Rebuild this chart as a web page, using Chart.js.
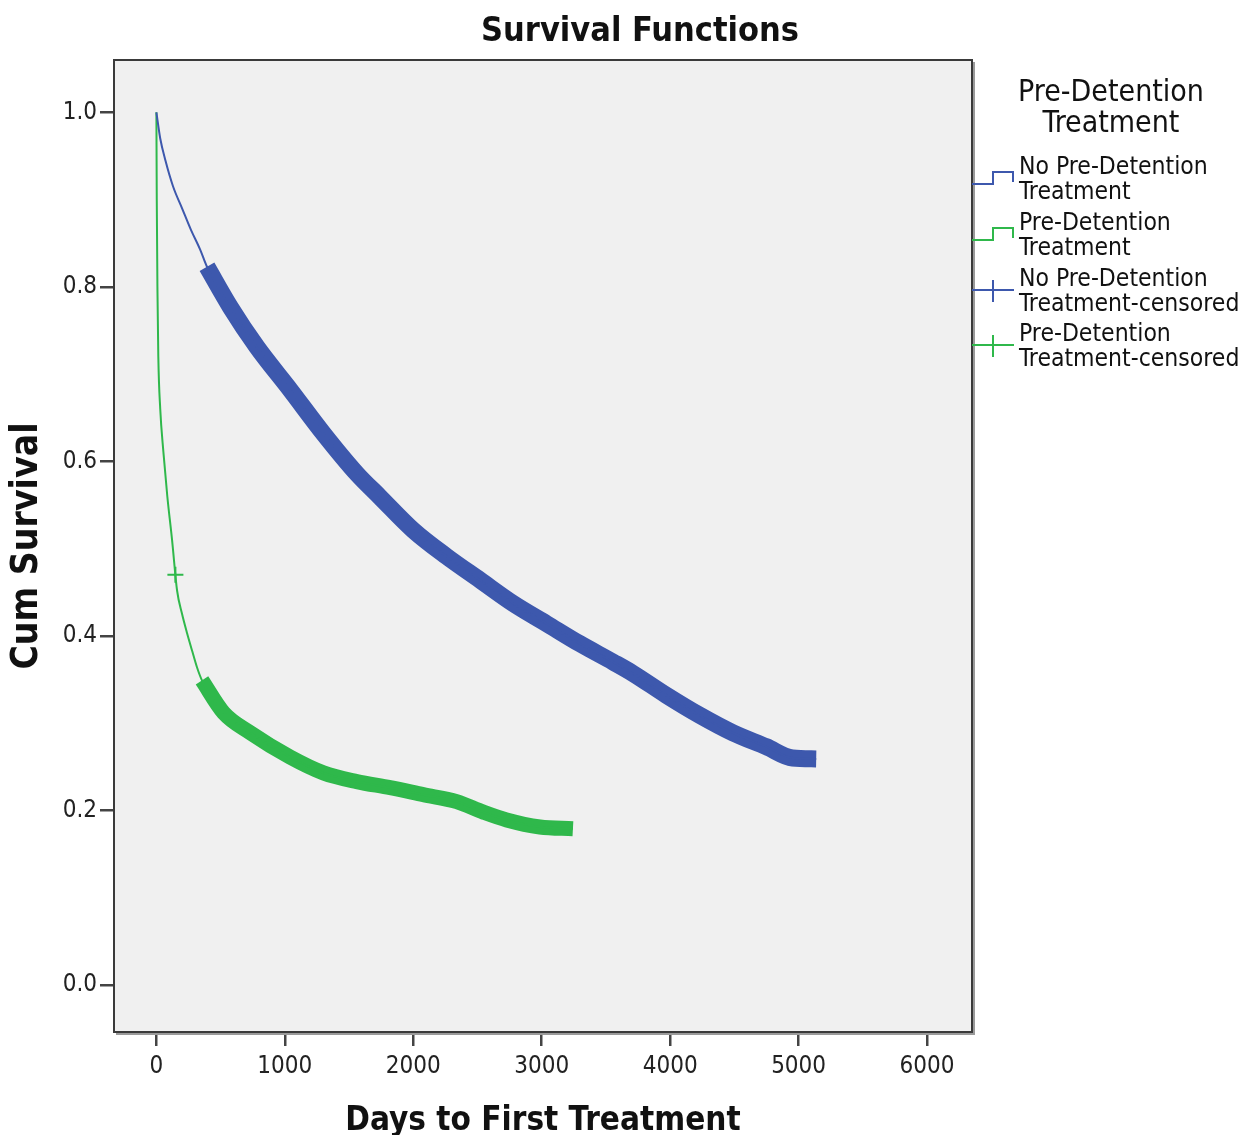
<!DOCTYPE html>
<html>
<head>
<meta charset="utf-8">
<script src="https://cdn.jsdelivr.net/npm/chart.js@4.4.0/dist/chart.umd.min.js"></script>
<style>
  html, body { margin: 0; padding: 0; background: #fff; }
  #wrap { width: 1246px; height: 1135px; }
</style>
</head>
<body>
<div id="wrap"><canvas id="survChart" width="1246" height="1135"></canvas></div>
<script>
var FONT = "'DejaVu Sans Condensed', 'Liberation Sans Narrow', 'Liberation Sans', sans-serif";
var BLUE = '#3d58ad';
var GREEN = '#2fb84b';

// Kaplan-Meier estimates
var noTxDays = [0, 30, 70, 130, 200, 270, 340, 394, 575, 783, 1042, 1300, 1560, 1742, 2001, 2260, 2519, 2779, 3038, 3297, 3556, 3710, 3970, 4230, 4487, 4748, 4953, 5137];
var noTxSurv = [1.0, 0.970, 0.945, 0.915, 0.890, 0.865, 0.843, 0.823, 0.777, 0.731, 0.682, 0.632, 0.586, 0.559, 0.521, 0.491, 0.464, 0.437, 0.414, 0.391, 0.370, 0.357, 0.332, 0.309, 0.289, 0.273, 0.260, 0.259];

var txDays = [0, 3, 8, 15, 30, 55, 85, 122, 161, 200, 239, 280, 316, 355, 523, 731, 1042, 1300, 1560, 1820, 2078, 2338, 2545, 2727, 2986, 3243];
var txSurv = [1.0, 0.900, 0.800, 0.720, 0.660, 0.610, 0.560, 0.510, 0.452, 0.425, 0.403, 0.382, 0.364, 0.349, 0.312, 0.289, 0.261, 0.243, 0.233, 0.226, 0.218, 0.210, 0.198, 0.189, 0.181, 0.179];

// censored cases (dense runs of marks)
var noTxCensDays = [394, 575, 783, 1042, 1300, 1560, 1742, 2001, 2260, 2519, 2779, 3038, 3297, 3556, 3710, 3970, 4230, 4487, 4748, 4953, 5137];
var noTxCensSurv = [0.823, 0.777, 0.731, 0.682, 0.632, 0.586, 0.559, 0.521, 0.491, 0.464, 0.437, 0.414, 0.391, 0.370, 0.357, 0.332, 0.309, 0.289, 0.273, 0.260, 0.259];
var txCensDays = [355, 523, 731, 1042, 1300, 1560, 1820, 2078, 2338, 2545, 2727, 2986, 3243];
var txCensSurv = [0.349, 0.312, 0.289, 0.261, 0.243, 0.233, 0.226, 0.218, 0.210, 0.198, 0.189, 0.181, 0.179];
var txLoneCensDays = [148];
var txLoneCensSurv = [0.470];

var xTicks = [0, 1000, 2000, 3000, 4000, 5000, 6000];
var yTicks = [0.0, 0.2, 0.4, 0.6, 0.8, 1.0];

var legendTitle = ['Pre-Detention', 'Treatment'];
var legendLabels = [
  ['No Pre-Detention', 'Treatment'],
  ['Pre-Detention', 'Treatment'],
  ['No Pre-Detention', 'Treatment-censored'],
  ['Pre-Detention', 'Treatment-censored']
];
var legendColors = [BLUE, GREEN, BLUE, GREEN];

function toPts(xs, ys) {
  return xs.map(function(x, i) { return { x: x, y: ys[i] }; });
}

var framePlugin = {
  id: 'frame',
  beforeDatasetsDraw: function(chart) {
    var a = chart.chartArea, c = chart.ctx;
    c.save();
    c.fillStyle = '#f0f0f0';
    c.fillRect(a.left, a.top, a.right - a.left, a.bottom - a.top);
    c.restore();
  },
  afterDatasetsDraw: function(chart) {
    var a = chart.chartArea, c = chart.ctx;
    c.save();
    c.strokeStyle = '#9a9a9a';
    c.lineWidth = 2;
    c.beginPath();
    c.moveTo(a.left + 2, a.bottom + 2);
    c.lineTo(a.right + 2, a.bottom + 2);
    c.lineTo(a.right + 2, a.top + 2);
    c.stroke();
    c.strokeStyle = '#3a3a3a';
    c.lineWidth = 2;
    c.strokeRect(a.left, a.top, a.right - a.left, a.bottom - a.top);
    c.restore();
  }
};

var legendPlugin = {
  id: 'sideLegend',
  afterDraw: function(chart) {
    var c = chart.ctx;
    c.save();
    // main title
    c.fillStyle = '#111';
    c.textAlign = 'center';
    c.textBaseline = 'middle';
    c.font = 'bold 34px ' + FONT;
    c.fillText('Survival Functions', 640, 32);

    c.font = '30px ' + FONT;
    c.fillText(legendTitle[0], 1111, 93);
    c.fillText(legendTitle[1], 1111, 124);

    c.textAlign = 'left';
    c.font = '24.5px ' + FONT;
    var rows = [168, 224, 280, 335];
    legendLabels.forEach(function(lines, i) {
      var y = rows[i];
      c.fillStyle = '#111';
      c.fillText(lines[0], 1019, y);
      c.fillText(lines[1], 1019, y + 25);
      var mid = y + 12;
      c.strokeStyle = legendColors[i];
      c.lineWidth = 2;
      c.beginPath();
      if (i < 2) {
        c.moveTo(972, mid + 4);
        c.lineTo(993, mid + 4);
        c.lineTo(993, mid - 8);
        c.lineTo(1013, mid - 8);
        c.lineTo(1013, mid + 2);
      } else {
        c.moveTo(972, mid - 2);
        c.lineTo(1014, mid - 2);
        c.moveTo(993, mid - 12);
        c.lineTo(993, mid + 10);
      }
      c.stroke();
    });
    c.restore();
  }
};

var ctx = document.getElementById('survChart').getContext('2d');
var survChart = new Chart(ctx, {
  type: 'line',
  data: {
    datasets: [
      { label: 'No Pre-Detention Treatment', data: toPts(noTxDays, noTxSurv), borderColor: BLUE, borderWidth: 2, pointRadius: 0, cubicInterpolationMode: 'monotone' },
      { label: 'Pre-Detention Treatment', data: toPts(txDays, txSurv), borderColor: GREEN, borderWidth: 2, pointRadius: 0, cubicInterpolationMode: 'monotone' },
      { label: 'No Pre-Detention Treatment-censored', data: toPts(noTxCensDays, noTxCensSurv), borderColor: BLUE, borderWidth: 17, borderCapStyle: 'butt', pointRadius: 0, cubicInterpolationMode: 'monotone' },
      { label: 'Pre-Detention Treatment-censored', data: toPts(txCensDays, txCensSurv), borderColor: GREEN, borderWidth: 15, borderCapStyle: 'butt', pointRadius: 0, cubicInterpolationMode: 'monotone' },
      { label: 'Pre-Detention Treatment-censored (single)', type: 'scatter', data: toPts(txLoneCensDays, txLoneCensSurv), borderColor: GREEN, backgroundColor: GREEN, borderWidth: 2, pointStyle: 'cross', pointRadius: 8 }
    ]
  },
  options: {
    responsive: false,
    animation: false,
    layout: { padding: { left: 0, right: 274, top: 60, bottom: 0 } },
    plugins: {
      legend: { display: false },
      title: { display: false },
      tooltip: { enabled: false }
    },
    scales: {
      x: {
        type: 'linear',
        min: -330,
        max: 6350,
        afterBuildTicks: function(s) { s.ticks = xTicks.map(function(v) { return { value: v }; }); },
        afterFit: function(s) { s.height = 103; },
        border: { display: false },
        grid: { drawOnChartArea: false, drawTicks: true, tickLength: 14, tickColor: '#444', tickWidth: 2.5, lineWidth: 2.5 },
        ticks: { font: { family: FONT, size: 24 }, color: '#222', padding: 6, maxRotation: 0, callback: function(v) { return String(v); } },
        title: { display: true, text: 'Days to First Treatment', color: '#111', padding: 0, font: { family: FONT, size: 33, weight: 'bold', lineHeight: 0.85 } }
      },
      y: {
        type: 'linear',
        min: -0.054,
        max: 1.06,
        afterBuildTicks: function(s) { s.ticks = yTicks.map(function(v) { return { value: v }; }); },
        afterFit: function(s) { s.width = 114; },
        border: { display: false },
        grid: { drawOnChartArea: false, drawTicks: true, tickLength: 14, tickColor: '#444', tickWidth: 2.5, lineWidth: 2.5 },
        ticks: { font: { family: FONT, size: 24 }, color: '#222', padding: 3, callback: function(v) { return v.toFixed(1); } },
        title: { display: true, text: 'Cum Survival', color: '#111', padding: 5, font: { family: FONT, size: 37, weight: 'bold', lineHeight: 1.2 } }
      }
    }
  },
  plugins: [framePlugin, legendPlugin]
});
</script>
</body>
</html>
